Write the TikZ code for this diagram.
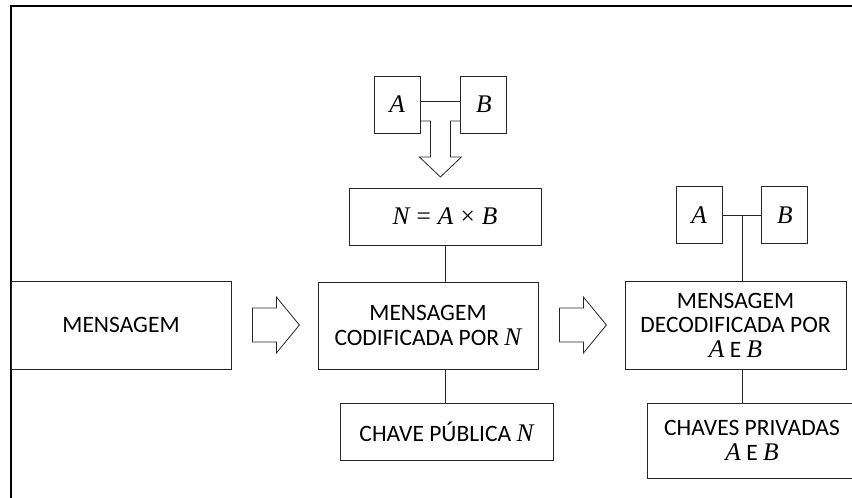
\documentclass[tikz,border=0pt]{standalone}
\usepackage{fontspec}
\setmainfont{Carlito}
\newfontfamily\matfont[Scale=1.08]{Liberation Serif}
\newcommand{\mv}[1]{{\matfont\itshape #1}}
\usetikzlibrary{calc,positioning}

\begin{document}
\begin{tikzpicture}[
	x=1pt,y=-1pt,
	font=\fontsize{23.5}{24.5}\selectfont,
	caixa/.style={
	draw=black!85,line width=0.8pt,align=center,inner sep=2pt,
	},
	chave/.style={
	caixa,minimum width=46pt,minimum height=57pt,
	},
	linha/.style={
	draw=black!85,line width=0.8pt,
	},
	seta/.style={
	draw=black!85,line width=0.8pt,line join=miter,
	}
	]

\useasboundingbox (0,0) rectangle (852,498);
\clip (0,0) rectangle (852,498);

% moldura
\draw[line width=1.6pt] (11,505) -- (11,6) -- (860,6);

\node[caixa, minimum width=220pt, minimum height=88pt] (msg) at (121,325) {MENSAGEM};
\node[caixa, minimum width=220pt, minimum height=87pt] (cod) at (428,325.5) {MENSAGEM\\CODIFICADA POR \mv{N}};
\node[caixa, minimum width=221pt, minimum height=88pt] (dec) at (735.5,325) {MENSAGEM\\DECODIFICADA POR\\\mv{A} E \mv{B}};
\node[caixa, minimum width=192pt, minimum height=57pt] (nab) at (445,216.5) {\mv{N}\hspace{0.3em}{\matfont =}\hspace{0.3em}\mv{A}\hspace{0.3em}{\matfont ×}\hspace{0.3em}\mv{B}};
\node[caixa, minimum width=213pt, minimum height=57pt] (pub) at (446.5,431.5) {CHAVE PÚBLICA \mv{N}};
\node[caixa, minimum width=210pt, minimum height=75pt] (priv) at (752,440.5) {CHAVES PRIVADAS\\\mv{A} E \mv{B}};

\node[chave] (ka) at (397,104.5) {\mv{A}};
\node[chave, right=40pt of ka] (kb) {\mv{B}};
\node[chave] (ka2) at (699,215) {\mv{A}};
\node[chave, right=39pt of ka2] (kb2) {\mv{B}};

\draw [linha] ([yshift=3.5pt]ka.east) to ([yshift=3.5pt]kb.west);
\draw [linha] (ka2) to (kb2);
\coordinate (meio) at ($(ka2.east)!0.5!(kb2.west)$);
\draw [linha] (meio) to (meio |- dec.north);
\draw [linha] (meio |- dec.south) to (meio |- priv.north);
\draw [linha] (nab.south) to (nab.south |- cod.north);
\draw [linha] (nab.south |- cod.south) to (nab.south |- pub.north);

% setas largas
\draw [seta] (ka.east) ++(0,16.5) -- ++(10,0) -- ++(0,36) -- ++(-11,0) -- ++(21,20) -- ++(21,-20) -- ++(-11,0) -- ++(0,-36) -- ++(10,0);
\draw [seta] (msg.east) ++(21,-17) -- ++(24,0) -- ++(0,-11) -- ++(23,28) -- ++(-23,28) -- ++(0,-11) -- ++(-24,0) -- cycle;
\draw [seta] (cod.east) ++(21,-17.5) -- ++(24,0) -- ++(0,-11) -- ++(23,28) -- ++(-23,28) -- ++(0,-11) -- ++(-24,0) -- cycle;

\end{tikzpicture}
\end{document}
